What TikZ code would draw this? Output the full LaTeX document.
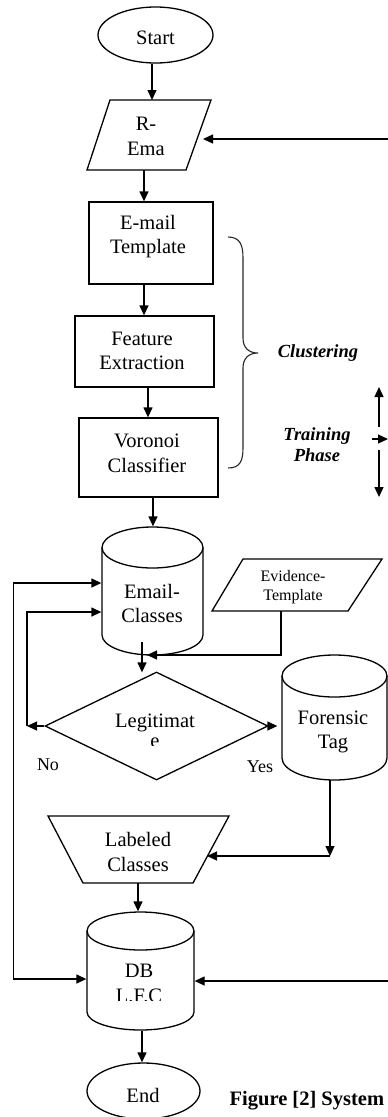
\documentclass[tikz,border=0pt]{standalone}
\usepackage{fontspec}
\setmainfont{Liberation Serif}
\usetikzlibrary{arrows.meta,shapes.geometric,calc}
\newcommand\drawcyl[6]{%
  \draw ({#1-#2},{-#5}) -- ({#1-#2},{-#3})
        ({#1-#2},{-#5}) arc[start angle=180,end angle=360,x radius=#2pt,y radius=#6pt] -- ({#1+#2},{-#3});
  \draw (#1,-#3) ellipse[x radius=#2pt,y radius=#4pt];}
\begin{document}
\begin{tikzpicture}[x=1pt,y=1pt,line width=1.3pt,
  >={Triangle[length=10pt,width=9pt]},
  txt/.style={align=center,inner sep=0pt,font=\fontsize{20.5}{24.5}\selectfont},
  smalltxt/.style={align=center,inner sep=0pt,font=\fontsize{16}{19}\selectfont},
  bitxt/.style={align=center,inner sep=0pt,font=\fontsize{18.5}{21}\selectfont\bfseries\itshape},
  lbl/.style={inner sep=0pt,font=\fontsize{18}{20}\selectfont},
  box/.style={draw,rectangle,inner sep=0pt},
  anchorbox/.style={draw=none,rectangle,inner sep=0pt},
  oval/.style={draw,ellipse,inner sep=0pt},
]
\useasboundingbox (0,0) rectangle (388,-1117);

% ---------- Start
\node[oval,minimum width=115pt,minimum height=56pt] (start) at (155.5,-35) {};
\node[txt] (tStart) at (155.5,-38) {Start};

% ---------- R-Ema (input)
\draw (110,-100) -- (211,-100) -- (186,-170) -- (87,-170) -- cycle;
\node[txt] (rema) at (146,-136.5) {R-\\Ema};
\coordinate (remaN) at (152,-100);
\coordinate (remaS) at (144,-170);
\coordinate (remaE) at (203,-139);
\coordinate (rIn1) at (388,-139);

% ---------- boxes
\node[box,minimum width=124pt,minimum height=82pt] (tmpl) at (151,-243) {};
\node[txt] (tTmpl) at (148,-236.5) {E-mail\\Template};
\node[box,minimum width=139pt,minimum height=71pt] (feat) at (144.5,-351.5) {};
\node[txt] (tFeat) at (142,-351) {Feature\\Extraction};
\node[box,minimum width=139pt,minimum height=79pt] (voro) at (148.5,-457.5) {};
\node[txt] (tVoro) at (147,-453.5) {Voronoi\\Classifier};

% ---------- brace, clustering, training phase
\draw[line width=1.1pt,black!85] (228,-237) .. controls (240,-237) and (243,-245) .. (243,-258) -- (243,-338)
  .. controls (243,-348) and (249,-353) .. (258,-353)
  .. controls (249,-353) and (243,-358) .. (243,-368) -- (243,-448)
  .. controls (243,-461) and (240,-468) .. (228,-468);
\node[bitxt] (clus) at (318,-353) {Clustering};
\node[bitxt] (train) at (317,-445) {Training\\Phase};
\coordinate (tpA) at (379,-427);
\coordinate (tpUp) at (379,-387);
\coordinate (tpB) at (379,-450);
\coordinate (tpDown) at (379,-497);
\coordinate (tpL) at (372,-439);
\coordinate (tpR) at (388,-439);
\draw[->] (tpA) -- (tpUp);
\draw[->] (tpB) -- (tpDown);
\draw[->] (tpL) -- (tpR);

% ---------- Email-Classes (database)
\drawcyl{152.5}{50.5}{547.5}{20.5}{635}{20}
\node[anchorbox,minimum width=101pt,minimum height=128pt] (ecls) at (152.5,-591) {};
\node[txt] (tEcls) at (152,-603.5) {Email-\\Classes};
\coordinate (eclsOut) at (142,-642);

% ---------- Evidence-Template (input)
\draw (243,-559) -- (382,-559) -- (348,-611) -- (212,-611) -- cycle;
\node[smalltxt] (evid) at (293,-587) {Evidence-\\Template};
\coordinate (evidS) at (281,-611);
\coordinate (join) at (147,-655);

% ---------- decision
\node[draw,diamond,aspect=2.06,minimum width=223pt,minimum height=108pt,inner sep=0pt] (dec) at (156.5,-726) {};
\node[txt] (tDec) at (155,-731) {Legitimat\\[-5pt]e};
\fill[white] (140,-745.5) rectangle (172,-750);
\node[lbl] (no) at (48,-765) {No};
\node[lbl] (yes) at (260,-767) {Yes};
\coordinate (noEnd) at (27,-726);

% ---------- Forensic Tag (database)
\drawcyl{334.5}{52.5}{676}{21}{758}{22}
\node[anchorbox,minimum width=105pt,minimum height=125pt] (fore) at (334.5,-717.5) {};
\node[txt] (tFore) at (333,-732) {Forensic\\Tag};
\coordinate (foreOut) at (330,-780);
\coordinate (corner) at (330,-856);
\coordinate (labE) at (207,-856);

% ---------- Labeled Classes (manual operation)
\draw (48,-816) -- (229,-816) -- (193,-883) -- (83,-883) -- cycle;
\node[txt] (lab) at (138,-852) {Labeled\\Classes};
\coordinate (labS) at (138,-883);

% ---------- DB L.F.C (database)
\drawcyl{140.5}{53.5}{931}{19}{1012}{18}
\node[anchorbox,minimum width=107pt,minimum height=118pt] (db) at (140.5,-971) {};
\node[txt] (tDb) at (139,-983.5) {DB\\L.F.C};
\fill[white] (100,-1001) rectangle (180,-1006);
\coordinate (rIn2) at (388,-981);

% ---------- End
\node[oval,minimum width=113pt,minimum height=56pt] (end) at (143.5,-1091) {};
\node[txt] (tEnd) at (143,-1095) {End};

% ---------- caption
\node[anchor=west,inner sep=0pt,font=\fontsize{20.5}{24}\selectfont\bfseries] (cap) at (229,-1101) {Figure [2] System};

% ---------- connectors
\draw[->] ([xshift=-3.5pt]start.south) -- ([xshift=-3.5pt]start.south |- remaN);
\draw[->] (rIn1) -- (remaE);
\draw[->] (remaS) -- (remaS |- tmpl.north);
\draw[->] ([xshift=-7pt]tmpl.south) -- ([xshift=-7pt]tmpl.south |- feat.north);
\draw[->] ([xshift=3.5pt]feat.south) -- ([xshift=3.5pt]feat.south |- voro.north);
\draw[->] ([xshift=4.5pt]voro.south) -- ([xshift=4.5pt]voro.south |- ecls.north);
\draw[->] (eclsOut) -- ([yshift=-1pt]eclsOut |- dec.north);
\draw[->] (evidS) |- (join);
\draw[->] (dec.west) -- (noEnd);
\draw[->] (noEnd) |- ([yshift=-21pt]ecls.west);
\draw[->] (dec.east) -- ([xshift=-4pt]dec.east -| fore.west);
\draw[->] (foreOut) -- (corner);
\draw[->] (corner) -- (labE);
\draw[->] (labS) -- (labS |- db.north);
\draw[<->] ([yshift=8pt]ecls.west) -| (13.5,-979) -- ([yshift=-8pt]db.west);
\draw[->] (rIn2) -- ([yshift=-10pt]db.east);
\draw[->] ([xshift=1.5pt]db.south) -- ([xshift=1.5pt]db.south |- end.north);
\end{tikzpicture}
\end{document}
